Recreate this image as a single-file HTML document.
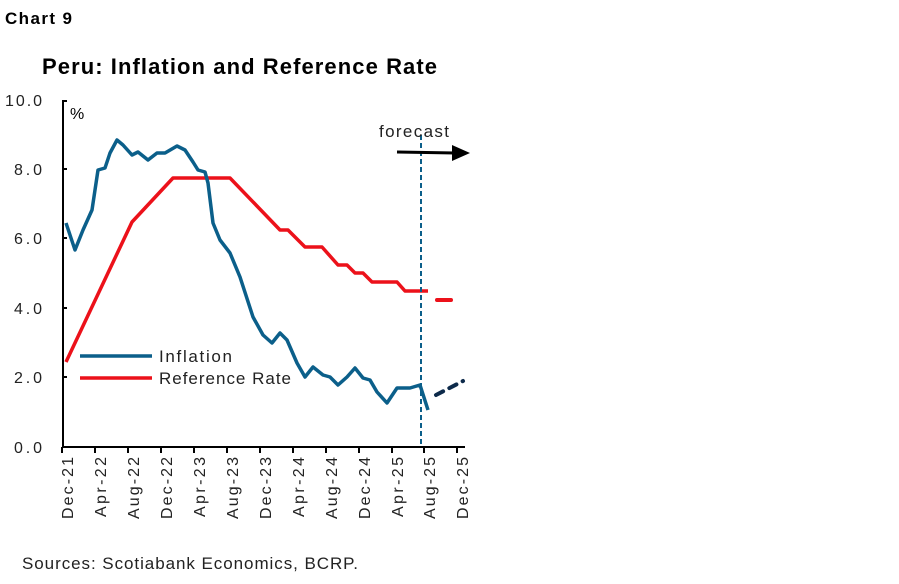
<!DOCTYPE html><html><head><style>body{margin:0;background:#fff;width:899px;height:579px;overflow:hidden}</style></head><body>
<svg width="899" height="579" viewBox="0 0 899 579" xmlns="http://www.w3.org/2000/svg" font-family="Liberation Sans, sans-serif">
<text x="5" y="24" font-size="17" font-weight="bold" textLength="67">Chart 9</text>
<text x="42" y="74" font-size="22" font-weight="bold" textLength="395">Peru: Inflation and Reference Rate</text>
<g font-size="16" text-anchor="end" fill="#222">
<text x="42" y="106" textLength="37">10.0</text><text x="42" y="175" textLength="28">8.0</text><text x="42" y="244" textLength="28">6.0</text><text x="42" y="314" textLength="28">4.0</text><text x="42" y="383" textLength="28">2.0</text><text x="42" y="453" textLength="28">0.0</text></g>
<text x="70" y="119" font-size="16">%</text>
<path d="M67,101 H63 V447 H465" fill="none" stroke="#000" stroke-width="2"/>
<g stroke="#000" stroke-width="2"><line x1="63" y1="169" x2="67" y2="169"/><line x1="63" y1="238" x2="67" y2="238"/><line x1="63" y1="308" x2="67" y2="308"/><line x1="63" y1="377" x2="67" y2="377"/>
<line x1="62" y1="447" x2="62" y2="453"/><line x1="95" y1="447" x2="95" y2="453"/><line x1="128" y1="447" x2="128" y2="453"/><line x1="161" y1="447" x2="161" y2="453"/><line x1="194" y1="447" x2="194" y2="453"/><line x1="227" y1="447" x2="227" y2="453"/><line x1="260" y1="447" x2="260" y2="453"/><line x1="293" y1="447" x2="293" y2="453"/><line x1="326" y1="447" x2="326" y2="453"/><line x1="359" y1="447" x2="359" y2="453"/><line x1="392" y1="447" x2="392" y2="453"/><line x1="424" y1="447" x2="424" y2="453"/><line x1="457" y1="447" x2="457" y2="453"/></g>
<g font-size="16" text-anchor="end" fill="#222">
<text transform="translate(73,457) rotate(-90)" textLength="62">Dec-21</text><text transform="translate(106,457) rotate(-90)" textLength="60">Apr-22</text><text transform="translate(139,457) rotate(-90)" textLength="62">Aug-22</text><text transform="translate(172,457) rotate(-90)" textLength="62">Dec-22</text><text transform="translate(205,457) rotate(-90)" textLength="60">Apr-23</text><text transform="translate(238,457) rotate(-90)" textLength="62">Aug-23</text><text transform="translate(271,457) rotate(-90)" textLength="62">Dec-23</text><text transform="translate(304,457) rotate(-90)" textLength="60">Apr-24</text><text transform="translate(337,457) rotate(-90)" textLength="62">Aug-24</text><text transform="translate(370,457) rotate(-90)" textLength="62">Dec-24</text><text transform="translate(403,457) rotate(-90)" textLength="60">Apr-25</text><text transform="translate(435,457) rotate(-90)" textLength="62">Aug-25</text><text transform="translate(468,457) rotate(-90)" textLength="62">Dec-25</text></g>
<polyline fill="none" stroke="#ec111a" stroke-width="3.5" stroke-linejoin="round" points="66,362 132,222 173,178 230,178 280,230 288,230 305,247 322,247 338,265 347,265 355,273 363,273 372,282 397,282 405,291 428,291"/>
<line x1="437" y1="300" x2="451" y2="300" stroke="#ec111a" stroke-width="4" stroke-linecap="round"/>
<polyline fill="none" stroke="#0b5f8a" stroke-width="3.5" stroke-linejoin="round" points="66,223 75,250 83,230 92,210 98,170 105,168 110,153 117,140 123,145 132,155 138,152 148,160 157,153 165,153 177,146 185,150 193,162 198,170 205,172 208,183 213,223 220,240 230,253 240,277 253,317 263,335 272,343 280,333 287,340 297,363 305,377 313,367 323,375 330,377 338,385 347,377 355,368 363,378 370,380 377,392 387,403 397,388 410,388 420,385 428,410"/>
<line x1="436" y1="395" x2="463" y2="381" stroke="#0d2a4a" stroke-width="4" stroke-linecap="round" stroke-dasharray="8,7"/>
<line x1="421" y1="135" x2="421" y2="447" stroke="#0b5f8a" stroke-width="2" stroke-dasharray="5,3"/>
<text x="379" y="137" font-size="17" fill="#222" textLength="70">forecast</text>
<line x1="397" y1="152" x2="455" y2="153" stroke="#000" stroke-width="3"/>
<polygon points="452,145 470,153 452,161" fill="#000"/>
<line x1="80" y1="356" x2="152" y2="356" stroke="#0b5f8a" stroke-width="3.5"/>
<line x1="80" y1="378" x2="152" y2="378" stroke="#ec111a" stroke-width="3.5"/>
<text x="159" y="362" font-size="17" fill="#222" textLength="73">Inflation</text>
<text x="159" y="384" font-size="17" fill="#222" textLength="132">Reference Rate</text>
<text x="22" y="569" font-size="17" fill="#222" textLength="336">Sources: Scotiabank Economics, BCRP.</text>
</svg></body></html>
